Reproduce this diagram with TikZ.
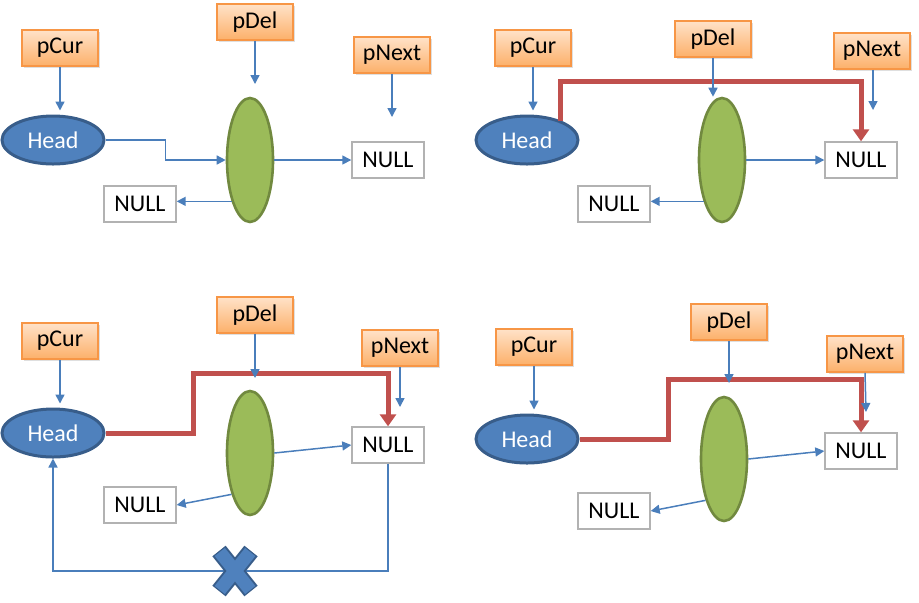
\documentclass[tikz,border=0pt]{standalone}
\usepackage{fontspec}
\setmainfont{Carlito}
\usetikzlibrary{arrows.meta,arrows}
\usetikzlibrary{positioning}
\usetikzlibrary{calc, shapes, shadows}

\definecolor{ptrtop}{HTML}{FFE2C8}
\definecolor{ptrbot}{HTML}{FCB06A}
\definecolor{ptrline}{HTML}{F79646}
\definecolor{headfill}{HTML}{4F81BD}
\definecolor{headline}{HTML}{385D8A}
\definecolor{delfill}{HTML}{9BBB59}
\definecolor{delline}{HTML}{71893F}
\definecolor{linkblue}{HTML}{4A7EBB}
\definecolor{linkred}{HTML}{C0504D}

\begin{document}
\begin{tikzpicture}[x=0.5pt,y=-0.5pt,>={Triangle[length=4.5pt,width=4.5pt]},semithick,font=\fontsize{12}{14}\selectfont]
 \tikzstyle{ptr node}=[rectangle,draw=ptrline,line width=0.8pt,top color=ptrtop,bottom color=ptrbot,
   minimum width=38pt,minimum height=18pt,inner sep=0,
   drop shadow={opacity=0.25,shadow xshift=0.8pt,shadow yshift=-0.8pt}]
 \tikzstyle{head node}=[ellipse,draw=headline,fill=headfill,line width=1.5pt,text=white,
   minimum width=51pt,minimum height=24pt,inner sep=0]
 \tikzstyle{del node}=[ellipse,draw=delline,fill=delfill,line width=1.3pt,
   minimum width=23pt,minimum height=62pt,inner sep=0]
 \tikzstyle{null node}=[rectangle,draw=black!30,line width=0.7pt,
   minimum width=36pt,minimum height=18pt,inner sep=0]
 \tikzset{
   link/.style={draw=linkblue,line width=0.75pt,->},
   redlink/.style={draw=linkred,line width=2.5pt,line join=miter,-{Triangle[length=6pt,width=8pt]}},
   cross out/.style={line width=#1,line cap=butt}
 }
 \useasboundingbox (0,0) rectangle (919,602);

 % top left
 \node[ptr node] (c1) at (60,48) {pCur};
 \node[ptr node] (d1) at (255,22) {pDel};
 \node[ptr node] (x1) at (392,55) {pNext};
 \node[head node] (h1) at (53,140) {Head};
 \node[del node] (e1) at (250,160) {};
 \node[null node] (n1) at (388,160) {NULL};
 \node[null node] (l1) at (140,204) {NULL};
 \coordinate (d1e) at (255,84);
 \coordinate (x1e) at (392,117);

 \draw[link,shorten >=2pt] (c1.south) -- (c1.south |- h1.north);
 \draw[link] (d1.south) -- (d1e);
 \draw[link] (x1.south) -- (x1e);
 \draw[link] (h1.east) -| ($(h1.east)!0.5!(e1.west)$) |- (e1.west);
 \draw[link] (e1.east) -- (n1.west);
 \draw[link] (e1.246) -- (e1.246 -| l1.east);

 % top right
 \node[ptr node] (c2) at (533,48) {pCur};
 \node[ptr node] (d2) at (713,39) {pDel};
 \node[ptr node] (x2) at (872,51) {pNext};
 \node[head node] (h2) at (527,140) {Head};
 \node[del node] (e2) at (722,160) {};
 \node[null node] (n2) at (861,160) {NULL};
 \node[null node] (l2) at (614,204) {NULL};
 \coordinate (x2e) at (873,110);
 \coordinate (k2) at (861,81);

 \draw[redlink] (h2.30) |- (k2) -- (n2.north);
 \draw[link,shorten >=2pt] (c2.south) -- (c2.south |- h2.north);
 \draw[link] (d2.south) -- (d2.south |- e2.north);
 \draw[link] (x2.south -| x2e) -- (x2e);
 \draw[link] (e2.east) -- (n2.west);
 \draw[link] (e2.246) -- (e2.246 -| l2.east);

 % bottom left
 \node[ptr node] (c3) at (60,341) {pCur};
 \node[ptr node] (d3) at (255,315) {pDel};
 \node[ptr node] (x3) at (400,348) {pNext};
 \node[head node] (h3) at (53,433) {Head};
 \node[del node] (e3) at (250,453) {};
 \node[null node] (n3) at (388,445) {NULL};
 \node[null node] (l3) at (140,505) {NULL};
 \coordinate (d3e) at (255,378);
 \coordinate (x3e) at (400,407);
 \coordinate (j3) at (193,433);
 \coordinate (k3) at (388,373);
 \coordinate (b3) at (235,571);

 \draw[redlink] (h3.east) -- (j3) |- (k3) -- (n3.north);
 \draw[link,shorten >=2pt] (c3.south) -- (c3.south |- h3.north);
 \draw[link] (d3.south) -- (d3e);
 \draw[link] (x3.south) -- (x3e);
 \draw[link] (e3.east) -- (n3.west);
 \draw[link] (e3.246) -- (l3.east);
 \draw[link] (n3.south) |- (b3) -| (h3.south);

 % the cut link
 \draw[cross out=8.5pt,headline] ($(b3)+(-16,-20)$) -- ($(b3)+(16,20)$)
   ($(b3)+(16,-20)$) -- ($(b3)+(-16,20)$);
 \draw[cross out=6.5pt,headfill] ($(b3)+(-15.2,-19)$) -- ($(b3)+(15.2,19)$)
   ($(b3)+(15.2,-19)$) -- ($(b3)+(-15.2,19)$);

 % bottom right
 \node[ptr node] (c4) at (534,347) {pCur};
 \node[ptr node] (d4) at (729,322) {pDel};
 \node[ptr node] (x4) at (865,354) {pNext};
 \node[head node] (h4) at (527,439) {Head};
 \node[del node] (e4) at (724,459) {};
 \node[null node] (n4) at (861,451) {NULL};
 \node[null node] (l4) at (614,511) {NULL};
 \coordinate (d4e) at (729,383);
 \coordinate (x4e) at (866,412);
 \coordinate (j4) at (668,439);
 \coordinate (k4) at (861,379);

 \draw[redlink] (h4.east) -- (j4) |- (k4) -- (n4.north);
 \draw[link,shorten >=2pt] (c4.south) -- (c4.south |- h4.north);
 \draw[link] (d4.south) -- (d4e);
 \draw[link] (x4.south) -- (x4e);
 \draw[link] (e4.east) -- (n4.west);
 \draw[link] (e4.246) -- (l4.east);
\end{tikzpicture}
\end{document}
